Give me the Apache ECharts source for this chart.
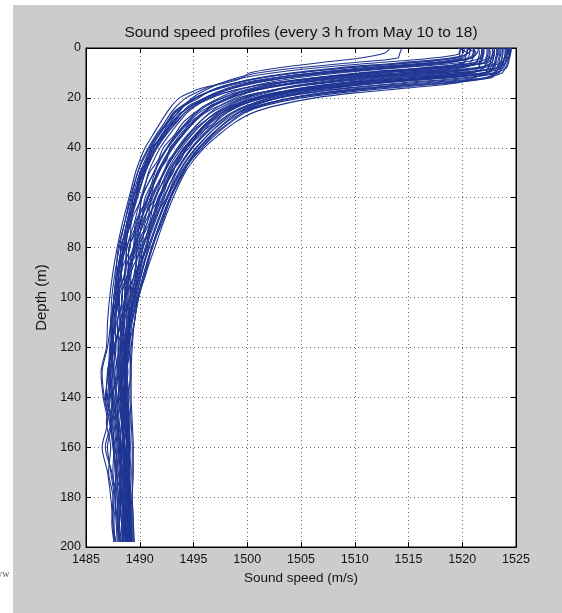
<!DOCTYPE html>
<html>
<head>
<meta charset="utf-8">
<script src="https://cdn.jsdelivr.net/npm/echarts@6/dist/echarts.min.js"></script>
<style>
  html, body { margin:0; padding:0; background:#fff; }
  #wrap { position:relative; width:562px; height:613px; overflow:hidden; background:#fff; }
  #bg { position:absolute; left:13px; top:5px; width:549px; height:608px; background:#cccccc; }
  #chart { position:absolute; left:0; top:0; width:562px; height:613px; }
</style>
</head>
<body>
<div id="wrap"><div id="bg"></div><div id="chart"></div></div>
<script>
// ---- Data ----
const TITLE = 'Sound speed profiles (every 3 h from May 10 to 18)';
const X_NAME = 'Sound speed (m/s)';
const Y_NAME = 'Depth (m)';
const X_MIN = 1485, X_MAX = 1525, X_STEP = 5;
const Y_MIN = 0, Y_MAX = 200, Y_STEP = 20;

const DEPTHS = [0,2,4,6,8,10,12,14,16,18,20,23,26,30,35,40,45,50,60,70,80,90,100,110,120,130,140,150,160,170,180,190,198];

const p01 = [1519.8,1519.8,1517.3,1511.8,1506.3,1502.3,1499.5,1497.6,1496.2,1495.2,1494.3,1493.5,1492.9,1492.3,1491.5,1490.8,1490.2,1489.8,1489.1,1488.6,1488.1,1487.7,1487.4,1487.3,1487.2,1487.1,1487.3,1487.5,1487.6,1487.8,1487.7,1487.8,1487.9];
const p02 = [1520.5,1520.5,1518.9,1514.0,1508.3,1504.0,1500.9,1498.8,1497.2,1496.2,1495.2,1494.2,1493.3,1492.6,1491.8,1491.1,1490.6,1490.2,1489.7,1488.9,1488.7,1488.0,1488.1,1487.7,1487.8,1487.5,1487.6,1487.9,1488.0,1488.2,1488.1,1488.3,1488.4];
const p03 = [1520.2,1520.1,1519.5,1515.2,1509.2,1504.7,1501.2,1498.9,1497.2,1496.1,1495.1,1494.0,1493.1,1492.5,1491.6,1490.9,1490.3,1489.8,1489.2,1488.6,1488.0,1487.8,1487.6,1487.3,1487.0,1486.5,1486.7,1487.2,1487.5,1487.8,1488.0,1487.9,1488.1];
const p04 = [1521.5,1521.4,1520.8,1516.5,1510.5,1506.0,1502.5,1500.2,1498.5,1497.4,1496.4,1495.3,1494.4,1493.6,1492.7,1491.9,1491.3,1490.8,1490.2,1489.2,1489.1,1488.3,1488.4,1487.9,1488.0,1487.9,1488.1,1488.3,1488.2,1488.4,1488.5,1488.6,1488.6];
const p05 = [1520.8,1520.7,1520.5,1517.1,1511.3,1506.3,1502.6,1500.0,1498.2,1497.0,1496.0,1494.8,1493.9,1493.1,1492.3,1491.5,1490.9,1490.4,1489.4,1489.2,1488.2,1488.3,1487.6,1487.5,1487.4,1487.6,1487.8,1488.0,1488.3,1488.2,1488.4,1488.5,1488.7];
const p06 = [1522.0,1522.0,1521.8,1519.5,1514.0,1508.5,1504.5,1501.7,1499.8,1498.4,1497.4,1496.1,1495.2,1494.3,1493.3,1492.5,1491.8,1491.3,1490.2,1489.9,1489.0,1488.9,1488.3,1488.4,1488.0,1488.0,1488.2,1488.4,1488.5,1488.6,1488.8,1488.7,1488.9];
const p07 = [1521.0,1521.1,1520.8,1518.5,1513.0,1507.5,1503.5,1500.7,1498.8,1497.4,1496.4,1495.1,1494.2,1493.4,1492.4,1491.6,1491.0,1490.5,1489.8,1489.1,1488.6,1488.3,1488.0,1487.7,1487.5,1487.3,1487.0,1487.4,1487.7,1488.0,1488.2,1488.1,1488.3];
const p08 = [1522.5,1522.5,1522.4,1520.9,1516.0,1510.3,1506.0,1502.9,1500.8,1499.2,1498.2,1496.8,1495.9,1494.9,1493.9,1493.0,1492.3,1491.7,1490.8,1490.1,1489.5,1489.0,1488.7,1488.5,1488.4,1488.3,1488.4,1488.6,1488.8,1488.7,1488.9,1489.0,1489.0];
const p09 = [1521.8,1521.8,1521.6,1521.1,1516.8,1510.8,1506.3,1502.8,1500.5,1498.8,1497.7,1496.3,1495.3,1494.4,1493.4,1492.6,1491.9,1491.4,1490.7,1489.6,1489.4,1488.6,1488.7,1488.2,1488.3,1488.2,1488.4,1488.6,1488.4,1488.6,1488.7,1488.8,1488.8];
const p10 = [1523.0,1523.0,1522.8,1522.3,1518.0,1512.0,1507.5,1504.0,1501.7,1500.0,1498.9,1497.5,1496.5,1495.5,1494.5,1493.6,1492.9,1492.3,1491.1,1490.7,1489.7,1489.6,1488.8,1489.0,1488.6,1488.5,1488.7,1488.9,1489.0,1488.9,1489.1,1489.2,1489.2];
const p11 = [1522.3,1522.3,1522.2,1522.0,1518.6,1512.8,1507.8,1504.1,1501.5,1499.7,1498.5,1497.0,1496.0,1495.0,1494.0,1493.1,1492.4,1491.8,1490.8,1490.0,1489.4,1488.9,1488.6,1488.3,1488.2,1488.0,1487.7,1487.9,1488.2,1488.4,1488.5,1488.4,1488.5];
const p12 = [1520.5,1520.4,1520.3,1520.2,1516.8,1511.0,1506.0,1502.3,1499.7,1497.9,1496.7,1495.2,1494.2,1493.3,1492.4,1491.6,1491.0,1490.5,1489.7,1489.1,1488.6,1488.2,1487.9,1487.7,1487.4,1487.0,1486.9,1487.3,1486.8,1487.4,1487.7,1487.9,1488.0];
const p13 = [1523.5,1523.5,1523.4,1523.2,1521.0,1515.5,1510.0,1506.0,1503.2,1501.3,1499.9,1498.4,1497.3,1496.2,1495.1,1494.2,1493.4,1492.8,1491.8,1491.0,1490.3,1489.7,1489.3,1489.0,1488.8,1488.7,1488.8,1489.0,1489.1,1489.0,1489.2,1489.3,1489.3];
const p14 = [1522.0,1522.0,1521.9,1521.7,1519.5,1514.0,1508.5,1504.5,1501.7,1499.8,1498.4,1496.9,1495.8,1494.8,1493.7,1492.9,1492.2,1491.6,1490.8,1489.7,1489.5,1488.6,1488.6,1487.9,1488.1,1487.7,1487.9,1488.1,1488.3,1488.5,1488.4,1488.6,1488.7];
const p15 = [1523.0,1523.0,1522.9,1522.7,1521.4,1516.5,1510.8,1506.5,1503.4,1501.3,1499.7,1498.2,1497.0,1495.9,1494.8,1493.9,1493.1,1492.5,1491.5,1490.7,1490.0,1489.5,1489.1,1488.8,1488.6,1488.4,1488.5,1488.7,1488.9,1489.0,1488.9,1489.0,1489.1];
const p16 = [1521.5,1521.6,1521.5,1521.3,1519.9,1515.0,1509.3,1505.0,1501.9,1499.8,1498.2,1496.7,1495.5,1494.5,1493.5,1492.6,1491.9,1491.3,1490.2,1489.8,1488.8,1488.7,1487.9,1488.1,1487.6,1487.4,1487.5,1487.8,1488.0,1488.2,1488.3,1488.5,1488.5];
const p17 = [1524.0,1524.0,1523.9,1523.7,1523.3,1519.0,1513.0,1508.5,1505.0,1502.7,1501.0,1499.4,1498.1,1497.0,1495.8,1494.8,1494.0,1493.3,1492.3,1491.4,1490.6,1490.0,1489.5,1489.0,1488.7,1488.5,1488.7,1488.9,1488.7,1488.5,1488.7,1488.9,1488.8];
const p18 = [1522.5,1522.6,1522.5,1522.3,1521.8,1517.5,1511.5,1507.0,1503.5,1501.2,1499.5,1497.9,1496.6,1495.5,1494.4,1493.5,1492.8,1492.2,1491.4,1490.2,1489.9,1489.0,1489.0,1488.4,1488.5,1488.2,1488.3,1488.5,1488.6,1488.8,1488.9,1488.9,1489.0];
const p19 = [1523.3,1523.3,1523.2,1523.1,1523.0,1519.6,1513.8,1508.8,1505.1,1502.5,1500.7,1499.0,1497.6,1496.5,1495.3,1494.4,1493.6,1493.0,1491.9,1491.0,1490.3,1489.7,1489.2,1488.9,1488.7,1488.6,1488.6,1488.8,1488.9,1488.8,1489.0,1489.1,1489.1];
const p20 = [1521.8,1521.8,1521.7,1521.6,1521.5,1518.1,1512.3,1507.3,1503.6,1501.0,1499.2,1497.5,1496.1,1495.0,1493.9,1493.0,1492.3,1491.7,1490.5,1490.1,1489.0,1488.9,1488.1,1488.2,1487.7,1487.6,1487.8,1488.0,1488.1,1488.3,1488.2,1488.3,1488.4];
const p21 = [1524.2,1524.2,1524.1,1524.0,1523.8,1521.7,1516.2,1510.7,1506.7,1503.9,1502.0,1500.1,1498.7,1497.5,1496.3,1495.2,1494.3,1493.6,1492.5,1491.6,1490.8,1490.2,1489.6,1489.1,1488.8,1488.6,1488.7,1488.9,1488.8,1488.9,1489.0,1488.9,1489.0];
const p22 = [1523.0,1523.0,1522.9,1522.8,1522.6,1520.5,1515.0,1509.5,1505.5,1502.7,1500.8,1498.9,1497.5,1496.3,1495.1,1494.1,1493.3,1492.6,1491.8,1490.5,1490.2,1489.2,1489.1,1488.6,1488.7,1488.4,1488.2,1488.4,1488.6,1488.7,1488.6,1488.8,1488.8];
const p23 = [1522.4,1522.4,1522.3,1522.2,1522.0,1520.8,1515.9,1510.2,1505.9,1502.8,1500.7,1498.6,1497.1,1495.9,1494.7,1493.7,1492.9,1492.2,1491.2,1490.3,1489.6,1489.1,1488.7,1488.4,1488.2,1488.1,1488.3,1488.5,1488.4,1488.6,1488.7,1488.6,1488.7];
const p24 = [1524.5,1524.5,1524.4,1524.3,1524.1,1522.9,1518.0,1512.3,1508.0,1504.9,1502.8,1500.7,1499.2,1497.9,1496.6,1495.5,1494.6,1493.9,1492.8,1491.9,1491.1,1490.4,1489.8,1489.3,1489.0,1488.8,1488.6,1488.9,1489.0,1488.8,1489.0,1489.1,1489.0];
const p25 = [1523.6,1523.6,1523.5,1523.4,1523.2,1522.9,1518.6,1512.6,1508.1,1504.6,1502.3,1500.0,1498.5,1497.2,1495.9,1494.9,1494.0,1493.3,1492.2,1491.3,1490.5,1489.9,1489.4,1489.0,1488.8,1488.7,1488.8,1488.9,1489.0,1488.9,1489.0,1489.1,1489.2];
const p26 = [1522.8,1522.8,1522.7,1522.6,1522.4,1522.1,1517.8,1511.8,1507.3,1503.8,1501.5,1499.2,1497.7,1496.4,1495.2,1494.2,1493.4,1492.7,1491.4,1490.9,1489.8,1489.6,1488.7,1488.8,1488.3,1488.2,1488.0,1488.3,1488.5,1488.6,1488.5,1488.7,1488.7];
const p27 = [1524.0,1524.0,1523.9,1523.8,1523.6,1523.4,1520.0,1514.3,1509.3,1505.6,1503.0,1500.5,1499.0,1497.6,1496.3,1495.3,1494.4,1493.7,1492.6,1491.7,1490.9,1490.2,1489.7,1489.2,1488.9,1488.7,1488.5,1488.6,1488.8,1488.7,1488.5,1488.6,1488.7];
const p28 = [1523.2,1523.2,1523.1,1523.0,1522.8,1522.5,1520.7,1515.2,1509.7,1505.7,1502.9,1500.2,1498.6,1497.3,1496.0,1494.9,1494.1,1493.4,1492.5,1491.1,1490.7,1489.7,1489.5,1488.9,1488.9,1488.6,1488.7,1488.9,1489.0,1488.9,1489.0,1489.1,1489.1];
const p29 = [1524.4,1524.4,1524.3,1524.2,1524.0,1523.7,1521.9,1516.4,1510.9,1506.9,1504.1,1501.4,1499.8,1498.4,1497.0,1495.8,1494.8,1494.0,1492.9,1492.0,1491.2,1490.5,1489.9,1489.5,1489.2,1489.1,1489.1,1489.2,1489.3,1489.3,1489.3,1489.4,1489.4];
const p30 = [1523.8,1523.8,1523.7,1523.6,1523.4,1523.1,1522.2,1517.3,1511.6,1507.3,1504.2,1501.2,1499.5,1498.0,1496.6,1495.5,1494.6,1493.8,1492.6,1491.6,1490.8,1490.1,1489.5,1489.1,1488.9,1488.8,1488.9,1489.0,1489.1,1489.0,1489.1,1489.2,1489.2];
const p31 = [1524.3,1524.3,1524.2,1524.0,1523.7,1523.3,1522.6,1518.3,1512.3,1507.8,1504.3,1501.1,1499.2,1497.9,1496.7,1495.6,1494.7,1494.0,1492.8,1491.9,1491.1,1490.4,1489.8,1489.2,1488.7,1488.4,1488.5,1488.7,1488.6,1488.8,1488.9,1488.7,1488.8];
const p32 = [1524.6,1524.5,1524.3,1524.0,1523.2,1522.2,1521.0,1519.5,1515.0,1510.0,1506.3,1502.8,1500.5,1498.8,1497.3,1496.0,1495.0,1494.2,1493.1,1492.2,1491.4,1490.6,1489.9,1489.5,1489.3,1489.2,1489.2,1489.3,1489.4,1489.4,1489.3,1489.4,1489.5];
const p33 = [1513.3,1512.8,1510.5,1506.5,1502.8,1500.2,1499.5,1498.0,1495.8,1494.6,1493.7,1493.0,1492.5,1491.9,1491.2,1490.5,1490.0,1489.6,1489.0,1488.4,1487.9,1487.5,1487.2,1487.0,1486.9,1486.4,1486.6,1487.0,1486.5,1487.0,1487.3,1487.5,1487.6];
const p34 = [1514.4,1514.2,1514.0,1509.5,1504.5,1501.0,1499.0,1497.6,1496.5,1495.6,1494.9,1494.1,1493.5,1492.8,1492.0,1491.3,1490.8,1490.3,1489.6,1489.0,1488.5,1488.1,1487.8,1487.6,1487.5,1487.3,1487.4,1487.7,1487.9,1488.1,1488.2,1488.3,1488.4];
const p35 = [1519.6,1520.4,1520.0,1517.3,1511.8,1506.3,1502.3,1499.5,1497.6,1496.2,1495.2,1494.0,1493.2,1492.5,1491.7,1491.0,1490.5,1490.0,1489.3,1488.8,1488.3,1487.9,1487.6,1487.4,1487.3,1487.2,1487.4,1487.6,1487.8,1487.9,1488.0,1488.1,1488.2];
const p36 = [1520.2,1521.2,1520.6,1520.0,1517.5,1512.0,1506.5,1502.5,1499.7,1497.8,1496.4,1494.9,1493.8,1493.0,1492.1,1491.3,1490.7,1490.2,1489.4,1488.8,1488.3,1487.9,1487.6,1487.5,1487.3,1487.1,1486.8,1487.2,1487.6,1487.7,1487.9,1488.0,1488.1];
const p37 = [1521.2,1521.0,1520.9,1517.8,1512.0,1507.0,1503.4,1500.3,1498.6,1497.0,1496.1,1494.6,1493.9,1492.9,1492.3,1491.2,1490.9,1490.1,1489.6,1488.8,1488.5,1487.9,1487.8,1487.4,1487.6,1487.2,1487.5,1487.3,1487.6,1487.5,1487.8,1487.6,1487.7];
const p38 = [1522.8,1522.9,1522.6,1521.9,1517.5,1511.2,1507.0,1503.2,1501.2,1499.2,1498.3,1496.6,1495.9,1494.6,1493.9,1492.8,1492.5,1491.6,1491.0,1490.0,1489.7,1488.9,1488.9,1488.4,1488.6,1488.2,1488.5,1488.3,1488.6,1488.9,1488.6,1488.9,1488.8];
const p39 = [1520.9,1521.3,1521.0,1520.7,1519.2,1514.0,1508.6,1504.3,1501.4,1499.1,1497.8,1496.1,1495.1,1494.0,1493.2,1492.2,1491.7,1490.9,1490.1,1489.5,1488.8,1488.6,1488.0,1488.2,1487.7,1487.9,1487.5,1487.9,1488.1,1487.8,1488.3,1488.0,1488.2];
const p40 = [1523.8,1523.7,1523.7,1523.5,1523.2,1520.3,1514.6,1509.4,1505.9,1503.1,1501.3,1499.3,1498.0,1496.6,1495.6,1494.4,1493.8,1492.9,1492.1,1491.0,1490.6,1489.8,1489.6,1489.0,1489.1,1488.8,1489.0,1488.7,1489.0,1489.1,1488.8,1489.1,1489.0];
const p41 = [1521.9,1521.9,1521.8,1521.7,1521.5,1521.0,1516.8,1511.1,1506.7,1503.3,1501.0,1498.7,1497.2,1495.8,1494.5,1493.7,1492.7,1492.2,1491.0,1490.4,1489.5,1489.2,1488.6,1488.6,1488.2,1488.4,1488.0,1488.3,1488.1,1488.4,1488.3,1488.5,1488.4];
const p42 = [1524.1,1524.1,1524.0,1523.8,1523.5,1523.0,1522.4,1518.9,1513.4,1508.6,1505.0,1501.7,1499.6,1498.3,1496.8,1495.8,1494.7,1494.1,1492.9,1492.1,1491.1,1490.6,1489.8,1489.5,1489.0,1489.2,1488.9,1489.1,1489.0,1489.2,1489.1,1489.2,1489.3];
const p43 = [1520.0,1519.7,1519.9,1518.3,1513.2,1507.8,1503.6,1500.8,1498.6,1497.3,1496.1,1494.9,1493.9,1493.2,1492.0,1491.5,1490.6,1490.4,1489.4,1489.2,1488.4,1488.3,1487.7,1487.8,1487.3,1487.5,1487.1,1487.4,1487.0,1487.3,1487.6,1487.5,1487.8];
const p44 = [1523.4,1523.4,1523.2,1523.1,1522.9,1522.0,1517.2,1511.5,1507.0,1503.7,1501.5,1499.4,1497.9,1496.9,1495.4,1494.6,1493.5,1493.1,1491.7,1491.2,1490.1,1489.8,1489.1,1489.0,1488.5,1488.7,1488.4,1488.6,1488.8,1488.5,1488.8,1488.6,1488.9];
const p45 = [1520.8,1520.6,1519.4,1514.8,1509.0,1504.5,1501.3,1499.0,1497.5,1496.2,1495.5,1494.2,1493.6,1492.6,1492.2,1491.1,1490.8,1490.0,1489.6,1488.9,1488.7,1488.0,1487.9,1487.3,1487.5,1487.0,1487.2,1486.9,1487.3,1487.1,1487.5,1487.4,1487.6];
const p46 = [1524.3,1524.2,1524.0,1523.6,1521.7,1516.4,1510.8,1506.6,1503.6,1501.8,1500.2,1498.8,1497.6,1496.2,1495.4,1494.3,1493.7,1492.9,1491.9,1491.3,1490.3,1490.0,1489.3,1489.1,1488.7,1488.9,1488.6,1488.8,1488.5,1488.8,1488.7,1488.9,1488.8];

const PROFILES = [p01,p02,p03,p04,p05,p06,p07,p08,p09,p10,p11,p12,p13,p14,p15,p16,p17,p18,
                  p19,p20,p21,p22,p23,p24,p25,p26,p27,p28,p29,p30,p31,p32,p33,p34,p35,p36,
                  p37,p38,p39,p40,p41,p42,p43,p44,p45,p46];

// ---- Styling ----
const FONT = '"Liberation Sans", Arial, Helvetica, sans-serif';
const LINE_COLOR = '#1f3592';
const TXT = '#141414';
const GRID_L = 86, GRID_T = 48, GRID_W = 430, GRID_H = 499;

const chart = echarts.init(document.getElementById('chart'), null, {renderer:'canvas'});

const tickCommon = { show:true, inside:true, length:5, lineStyle:{color:'#000', width:1} };
const lineCommon = { show:true, onZero:false, lineStyle:{color:'#000', width:1} };
const splitCommon = { show:true, lineStyle:{color:'#6a6a6a', width:1, type:[1,3]} };
const plain = v => String(v);

const series = PROFILES.map((p, k) => ({
  name: 'profile ' + (k+1),
  type: 'line',
  data: p.map((v, i) => [v, DEPTHS[i]]),
  showSymbol: false,
  smooth: 0.3,
  silent: true,
  lineStyle: { width: 1.1, color: LINE_COLOR },
  itemStyle: { color: LINE_COLOR },
  z: 3
}));

chart.setOption({
  animation: false,
  backgroundColor: 'transparent',
  grid: { left: GRID_L, top: GRID_T, width: GRID_W, height: GRID_H, show: true,
          backgroundColor: '#ffffff', borderColor: '#000', borderWidth: 1, containLabel: false },
  graphic: [
    { type:'text', x: GRID_L + GRID_W/2, y: 33, z: 10,
      style: { text: TITLE, align:'center', verticalAlign:'middle', textAlign:'center', textVerticalAlign:'middle',
               font: '15.5px ' + FONT, fill: TXT } },
    { type:'text', x: -5, y: 574, z: 10,
      style: { text: 'ww', align:'left', verticalAlign:'middle', textAlign:'left', textVerticalAlign:'middle',
               font: '10px "Liberation Serif", "DejaVu Serif", serif', fill: '#555' } }
  ],
  xAxis: [
    { type:'value', min:X_MIN, max:X_MAX, interval:X_STEP, position:'bottom',
      axisLine: lineCommon, axisTick: tickCommon, splitLine: splitCommon,
      axisLabel: { show:true, margin:6, fontSize:12.5, color:TXT, fontFamily:FONT, formatter: plain },
      name: X_NAME, nameLocation:'middle', nameGap:21,
      nameTextStyle: { fontSize:13.5, color:TXT, fontFamily:FONT } },
    { type:'value', min:X_MIN, max:X_MAX, interval:X_STEP, position:'top',
      axisLine: lineCommon, axisTick: tickCommon, splitLine:{show:false}, axisLabel:{show:false} }
  ],
  yAxis: [
    { type:'value', min:Y_MIN, max:Y_MAX, interval:Y_STEP, inverse:true, position:'left',
      axisLine: lineCommon, axisTick: tickCommon, splitLine: splitCommon,
      axisLabel: { show:true, margin:5, fontSize:12.5, color:TXT, fontFamily:FONT, formatter: plain },
      name: Y_NAME, nameLocation:'middle', nameGap:31, nameRotate:90,
      nameTextStyle: { fontSize:15, color:TXT, fontFamily:FONT } },
    { type:'value', min:Y_MIN, max:Y_MAX, interval:Y_STEP, inverse:true, position:'right',
      axisLine: lineCommon, axisTick: tickCommon, splitLine:{show:false}, axisLabel:{show:false} }
  ],
  series: series
});
</script>
</body>
</html>
